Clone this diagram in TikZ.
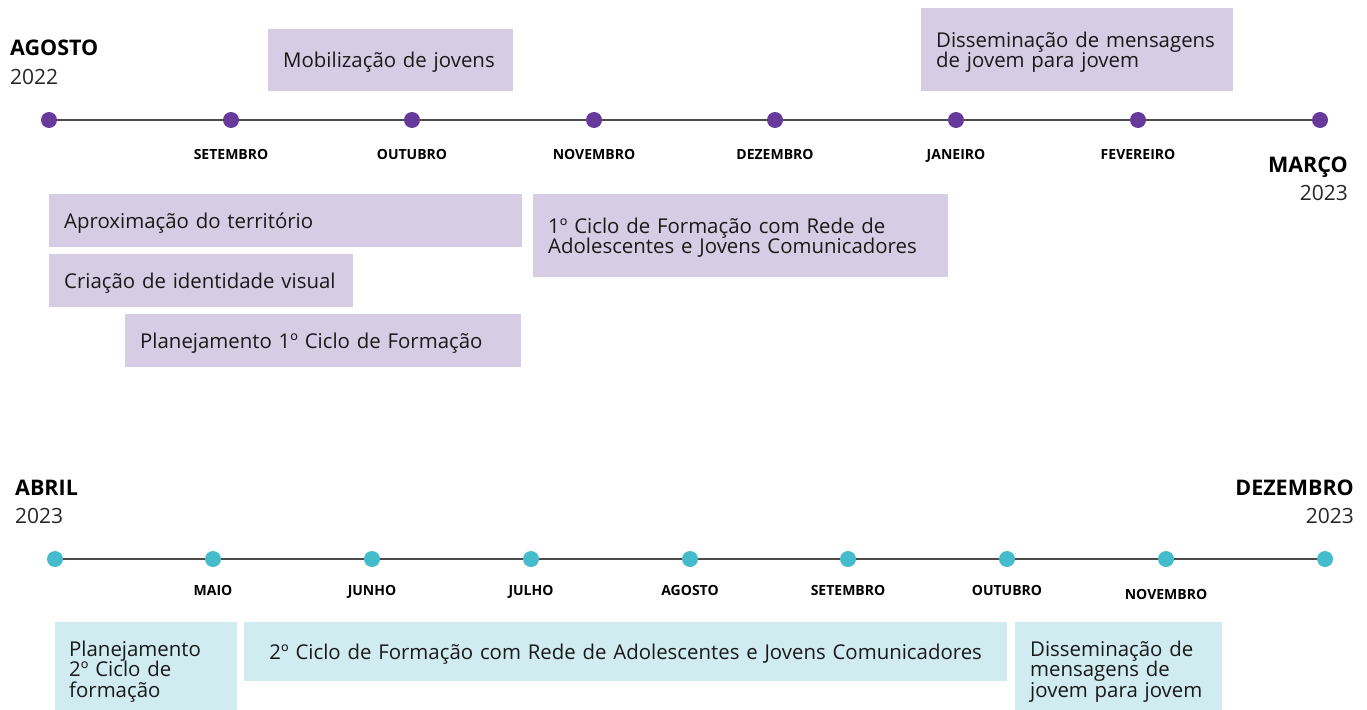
\documentclass[tikz,border=0pt]{standalone}
\usepackage{fontspec}
\setmainfont{Open Sans}
\usepackage{tikz}
\usetikzlibrary{positioning,calc}

\definecolor{roxo}{HTML}{67399A}
\definecolor{roxoclaro}{HTML}{D6CDE4}
\definecolor{azul}{HTML}{45BCCC}
\definecolor{azulclaro}{HTML}{D0ECF0}
\definecolor{linha}{HTML}{4F4A4A}

\begin{document}
\begin{tikzpicture}
    [x=1pt,y=-1pt,
    dotA/.style={circle,fill=roxo,inner sep=0pt,minimum size=16pt},
    dotB/.style={circle,fill=azul,inner sep=0pt,minimum size=16pt},
    month/.style={font=\fontsize{14}{16}\selectfont\bfseries,anchor=base,inner sep=0pt},
    big/.style={font=\fontsize{21.5}{23}\selectfont\bfseries,anchor=base west,inner sep=0pt},
    year/.style={font=\fontsize{21}{23}\selectfont,anchor=base west,inner sep=0pt,text=black!85},
    phaseA/.style={rectangle,fill=roxoclaro,anchor=north west,align=left,inner xsep=15pt,inner ysep=0pt,
        text depth=0pt,font=\fontsize{20.4}{20.8}\selectfont,text=black!90},
    phaseB/.style={phaseA,fill=azulclaro},
    twolines/.style={text depth=20.8pt},
    threelines/.style={text depth=41.6pt}]
    \useasboundingbox (0,0) rectangle (1367,709);

    % linha 2022/2023
    \foreach \i/\x in {0/49,1/231,2/412,3/594,4/775,5/956,6/1138,7/1320}
        \node[dotA] (a\i) at (\x,120) {};
    \foreach \i [evaluate=\i as \j using int(\i+1)] in {0,...,6}
        \draw[linha,line width=1.8pt] (a\i) -- (a\j);

    \node[month] (mSet) at ($(a1)+(0,39)$) {SETEMBRO};
    \node[month] (mOut) at ($(a2)+(0,39)$) {OUTUBRO};
    \node[month] (mNov) at ($(a3)+(0,39)$) {NOVEMBRO};
    \node[month] (mDez) at ($(a4)+(0,39)$) {DEZEMBRO};
    \node[month] (mJan) at ($(a5)+(0,39)$) {JANEIRO};
    \node[month] (mFev) at ($(a6)+(0,39)$) {FEVEREIRO};

    \node[big] (ago) at (10,56) {AGOSTO};
    \node[year] (ago2022) at (10,84) {2022};
    \node[big,anchor=base east] (mar) at (1348,172) {MARÇO};
    \node[year,anchor=base east] (mar2023) at (1348,200) {2023};

    \node[phaseA,text width=215pt,minimum height=62pt] (mob) at (268,29) {Mobilização de jovens};
    \node[phaseA,twolines,text width=282pt,minimum height=83pt] (dis1) at (921,8) {Disseminação de mensagens\\de jovem para jovem};
    \node[phaseA,text width=443pt,minimum height=53pt] (apr) at (49,194) {Aproximação do território};
    \node[phaseA,text width=274pt,minimum height=53pt] (cri) at (49,254) {Criação de identidade visual};
    \node[phaseA,text width=366pt,minimum height=53pt] (pla1) at (125,314) {Planejamento 1º Ciclo de Formação};
    \node[phaseA,twolines,text width=385pt,minimum height=83pt] (cic1) at (533,194) {1º Ciclo de Formação com Rede de\\Adolescentes e Jovens Comunicadores};

    % linha 2023
    \foreach \i/\x in {0/55,1/213,2/372,3/531,4/690,5/848,6/1007,7/1166,8/1325}
        \node[dotB] (b\i) at (\x,559) {};
    \foreach \i [evaluate=\i as \j using int(\i+1)] in {0,...,7}
        \draw[linha,line width=1.8pt] (b\i) -- (b\j);

    \node[month] (mMai) at ($(b1)+(0,36)$) {MAIO};
    \node[month] (mJun) at ($(b2)+(0,36)$) {JUNHO};
    \node[month] (mJul) at ($(b3)+(0,36)$) {JULHO};
    \node[month] (mAgo) at ($(b4)+(0,36)$) {AGOSTO};
    \node[month] (mSet2) at ($(b5)+(0,36)$) {SETEMBRO};
    \node[month] (mOut2) at ($(b6)+(0,36)$) {OUTUBRO};
    \node[month] (mNov2) at ($(b7)+(0,40)$) {NOVEMBRO};

    \node[big] (abr) at (15,495) {ABRIL};
    \node[year] (abr2023) at (15,523) {2023};
    \node[big,anchor=base east] (dez) at (1354,495) {DEZEMBRO};
    \node[year,anchor=base east] (dez2023) at (1354,523) {2023};

    \node[phaseB,threelines,inner xsep=14pt,text width=154pt,minimum height=94pt] (pla2) at (55,622) {Planejamento\\2º Ciclo de\\formação};
    \node[phaseB,text width=733pt,minimum height=59pt,align=center] (cic2) at (244,622) {2º Ciclo de Formação com Rede de Adolescentes e Jovens Comunicadores};
    \node[phaseB,threelines,text width=177pt,minimum height=94pt] (dis2) at (1015,622) {Disseminação de\\mensagens de\\jovem para jovem};
\end{tikzpicture}
\end{document}
